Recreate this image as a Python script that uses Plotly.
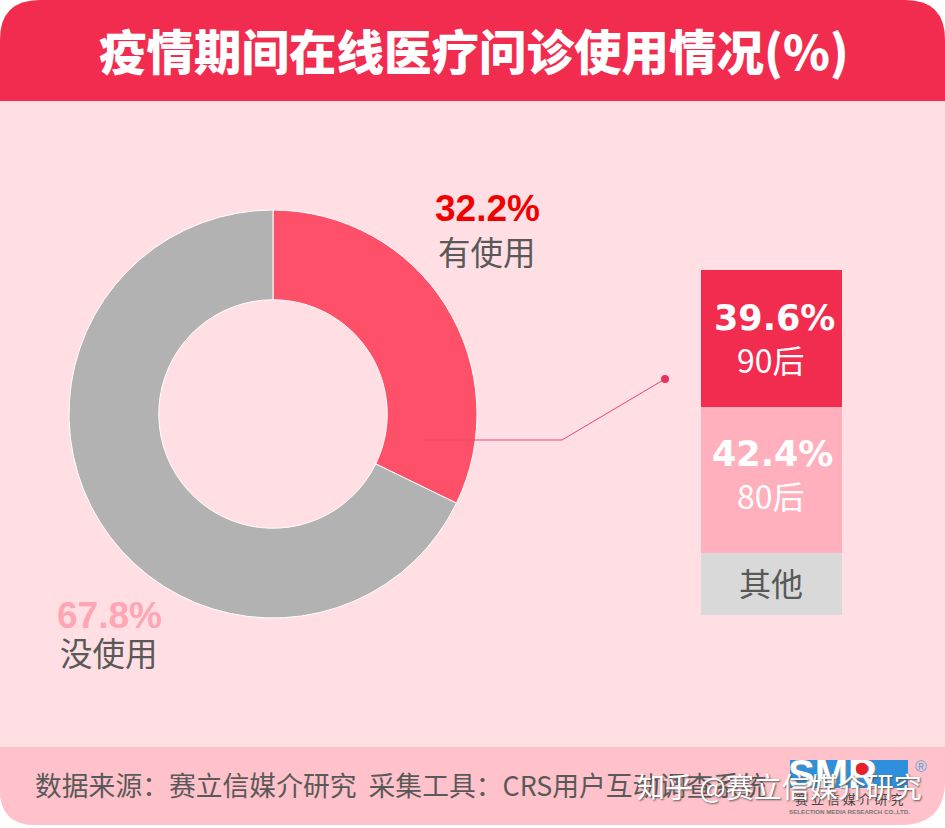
import plotly.graph_objects as go

W, H = 945, 828

title_text = "疫情期间在线医疗问诊使用情况(%)"
usage_labels = ["有使用", "没使用"]
usage_values = [32.2, 67.8]
age_labels = ["其他", "80后", "90后"]
age_values = [18.0, 42.4, 39.6]
source_text = "数据来源\uff1a赛立信媒介研究  采集工具\uff1aCRS用户互动调查系统"
watermark_text = "知乎 @赛立信媒介研究"

RED = "#F22C4E"
BG = "#FFDFE3"
FOOT = "#FFC2CA"
CJK = "Noto Sans CJK SC"
LAT = "Liberation Sans"
WIDE = "DejaVu Sans"


def px(x):
    return x / W


def py(y):
    return 1 - y / H


def note(x, y, text, size, color, family=CJK, bold=False, shadow=None, anchor="center", weight=None):
    font = dict(size=size, color=color, family=family, weight=weight or ("bold" if bold else "normal"))
    if shadow:
        font["shadow"] = shadow
    return dict(x=px(x), y=py(y), xref="paper", yref="paper", text=text, showarrow=False,
                font=font, xanchor=anchor, yanchor="middle")


def rect(x0, y0, x1, y1, color, layer="below"):
    return dict(type="rect", xref="paper", yref="paper", x0=px(x0), x1=px(x1), y0=py(y0), y1=py(y1),
                fillcolor=color, line=dict(width=0), layer=layer)


def pth(d, color, layer="below"):
    return dict(type="path", xref="paper", yref="paper", path=d, fillcolor=color,
                line=dict(width=0), layer=layer)


def P(x, y):
    return f"{px(x):.5f},{py(y):.5f}"


def rounded(x0, y0, x1, y1, tl, tr, br, bl):
    return (f"M{P(x0 + tl, y0)} L{P(x1 - tr, y0)} Q{P(x1, y0)} {P(x1, y0 + tr)} "
            f"L{P(x1, y1 - br)} Q{P(x1, y1)} {P(x1 - br, y1)} L{P(x0 + bl, y1)} "
            f"Q{P(x0, y1)} {P(x0, y1 - bl)} L{P(x0, y0 + tl)} Q{P(x0, y0)} {P(x0 + tl, y0)} Z")


fig = go.Figure()

fig.add_trace(go.Pie(
    labels=usage_labels, values=usage_values, hole=0.56, sort=False, direction="clockwise",
    rotation=0, textinfo="none", showlegend=False,
    marker=dict(colors=["#FF5069", "#B2B2B2"], line=dict(color="white", width=1)),
    domain=dict(x=[px(69), px(477)], y=[py(618), py(210)]),
))

bar_colors = ["#D9D9D9", "#FFB0BC", RED]
for lab, val, col in zip(age_labels, age_values, bar_colors):
    fig.add_trace(go.Bar(x=["age"], y=[val], name=lab, width=1, marker=dict(color=col, line=dict(width=0)),
                         showlegend=False))

shapes = [
    pth(rounded(0, 0, 945, 825, 40, 40, 45, 35), BG),
    pth(rounded(0, 747, 945, 825, 0, 0, 45, 35), FOOT),
    pth(rounded(0, 0, 945, 101, 40, 40, 0, 0), RED),
    dict(type="path", xref="paper", yref="paper",
         path=f"M{P(424, 440)} L{P(562, 440)} L{P(665, 379)}",
         line=dict(color="#E8476A", width=1), layer="above"),
    dict(type="circle", xref="paper", yref="paper", x0=px(661), x1=px(669), y0=py(383), y1=py(375),
         fillcolor="#E8335A", line=dict(width=0), layer="above"),
    rect(790, 760, 908, 788, "#2E8FDC", "above"),
]

annotations = [
    note(474, 49, title_text, 47.5, "white", weight=900),
    note(487, 208, f"{usage_values[0]}%", 37, "#F00000", LAT, True),
    note(487, 250, usage_labels[0], 32.5, "#595959"),
    note(109, 615, f"{usage_values[1]}%", 37, "#FFA6B4", LAT, True),
    note(109, 651, usage_labels[1], 32.5, "#595959"),
    note(774, 318, f"{age_values[2]}%", 35, "white", WIDE, True),
    note(771, 359, age_labels[2], 32, "white"),
    note(772, 454, f"{age_values[1]}%", 35, "white", WIDE, True),
    note(771, 495, age_labels[1], 32, "white"),
    note(771, 582, age_labels[0], 32, "#595959"),
    note(33, 784, source_text, 26.8, "#595959", anchor="left"),
    note(832, 774, "SMR", 40, "white", LAT, True, shadow="1px 1px 1px #888"),
    note(862, 767, "●", 16, "#E8202A", WIDE),
    note(921, 766, "®", 16, "#5AA5DC", LAT),
    note(849, 798, "赛 立 信 媒 介 研 究", 13, "#444444"),
    note(849, 811, "SELECTION MEDIA RESEARCH CO.,LTD.", 6.2, "#777777", LAT, True),
    note(779, 786, watermark_text, 28, "white", shadow="1px 1px 2px #555"),
]

fig.update_layout(
    width=W, height=H, autosize=False,
    margin=dict(l=0, r=0, t=0, b=0, pad=0),
    paper_bgcolor="white", plot_bgcolor="rgba(0,0,0,0)",
    barmode="stack", bargap=0,
    showlegend=False,
    shapes=shapes, annotations=annotations,
    xaxis=dict(domain=[px(701), px(842)], visible=False, fixedrange=True),
    yaxis=dict(domain=[py(615), py(270)], range=[0, 100], visible=False, fixedrange=True),
)

fig.write_html("out.html", config=dict(displayModeBar=False),
               post_script="document.body.style.margin='0';document.body.style.overflow='hidden';")
